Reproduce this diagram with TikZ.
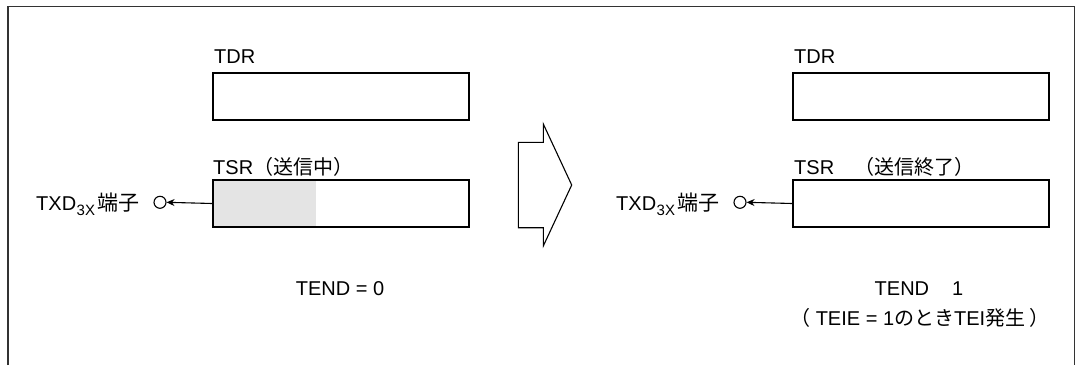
\documentclass[tikz,border=0pt]{standalone}
\usepackage{fontspec}
\setmainfont{Liberation Sans}
\newfontfamily\jp{Noto Sans CJK JP}
\usetikzlibrary{arrows.meta}
\definecolor{shadefill}{HTML}{E4E4E4}
\newcommand{\pinlabel}{TXD\hspace{0.5pt}\raisebox{-5pt}{\fontsize{15}{15}\selectfont 3X}\hspace{2pt}{\jp\fontsize{21}{24}\selectfont 端子}}
\begin{document}
\begin{tikzpicture}[x=1pt,y=-1pt,
  reg/.style={draw=black, line width=2pt, minimum width=256pt, minimum height=47pt, inner sep=0, anchor=north west},
  lbl/.style={inner sep=0, anchor=base west, font=\fontsize{20}{24}\selectfont},
  clbl/.style={lbl, anchor=base},
  pin/.style={circle, draw=black, line width=1.1pt, minimum size=12pt, inner sep=0},
  sig/.style={line width=1.1pt, -{Stealth[length=8pt,width=7pt]}},
  frame/.style={line width=1.4pt, black!80},
  bigarrow/.style={line width=1.1pt, draw=black}]
\useasboundingbox (0,0) rectangle (1079,365);
\draw[frame] (8,365) -- (8,6.5) -- (1074.5,6.5) -- (1074.5,365);

% left state
\fill[shadefill] (212.3,179) rectangle (316,225.7);
\node[reg] (tdrL) at (212.3,72.3) {};
\node[reg] (tsrL) at (212.3,179) {};
\node[lbl] (tdrLt) at (214,63) {TDR};
\node[lbl] (tsrLt) at (213,174.5) {TSR{\jp （送信中）}};
\node[lbl] (txdL) at (36,210) {\pinlabel};
\node[pin] (cL) at (160,202.3) {};
\draw[sig] (tsrL.west) -- (cL.east);
\node[clbl] (tendL) at (340,295) {TEND = 0};

% transition arrow
\draw[bigarrow] (518.3,142.3) -- (543.3,142.3) -- (543.3,124) -- (571.7,185) -- (543.3,246) -- (543.3,227.7) -- (518.3,227.7) -- cycle;

% right state
\node[reg] (tdrR) at (792.3,72.3) {};
\node[reg] (tsrR) at (792.3,179) {};
\node[lbl] (tdrRt) at (794,63) {TDR};
\node[lbl] (tsrRt) at (794,174.5) {TSR{\jp 　（送信終了）}};
\node[lbl] (txdR) at (616,210) {\pinlabel};
\node[pin] (cR) at (740,202.3) {};
\draw[sig] (tsrR.west) -- (cR.east);
\node[clbl] (tendR) at (919,295) {TEND\hspace{23pt}1};
\node[clbl] (teiR) at (920,325) {{\jp （}\hspace{5pt}TEIE = 1{\jp のとき}TEI{\jp 発生}\hspace{4pt}{\jp ）}};
\end{tikzpicture}
\end{document}
